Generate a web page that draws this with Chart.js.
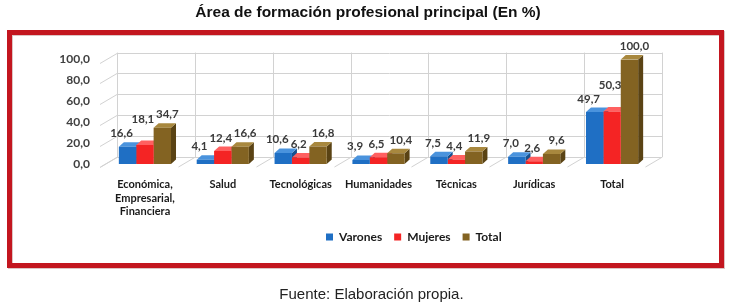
<!DOCTYPE html>
<html><head><meta charset="utf-8">
<script src="https://cdn.jsdelivr.net/npm/chart.js@4"></script>
<style>
html,body{margin:0;padding:0;background:#fff;}
#wrap{position:relative;width:739px;height:307px;overflow:hidden;}
#footer{position:absolute;left:2px;width:739px;top:285px;line-height:16px;text-align:center;font:15px "Liberation Sans",Arial,sans-serif;color:#222;}
</style></head><body>
<div id="wrap"><canvas id="c" width="739" height="307"></canvas><div id="footer">Fuente: Elaboración propia.</div></div>
<script>
// ---- data ----
const categories = [['Económica,','Empresarial,','Financiera'],'Salud','Tecnológicas','Humanidades','Técnicas','Jurídicas','Total'];
const seriesNames = ['Varones','Mujeres','Total'];
const varones = [16.6, 4.1, 10.6, 3.9, 7.5, 7.0, 49.7];
const mujeres = [18.1, 12.4, 6.2, 6.5, 4.4, 2.6, 50.3];
const totales = [34.7, 16.6, 16.8, 10.4, 11.9, 9.6, 100.0];
const yTickLabels = ['0,0','20,0','40,0','60,0','80,0','100,0'];
const titleText = 'Área de formación profesional principal (En %)';

// ---- styles ----
const frontColors = ['#1f6fc4','#f42424','#836322'];
const topColors   = ['#4a93dd','#ff6060','#a8883e'];
const sideColors  = ['#16518f','#b51515','#5a4314'];
const WALL = {bx: 11, by: -7, fx: -6, fy: 3};
const DEPTH = {x: 5, y: 4.5};
const labelDx = [-6, -2, 5];

function poly(ctx, pts){ctx.beginPath();ctx.moveTo(pts[0][0],pts[0][1]);for(let i=1;i<pts.length;i++)ctx.lineTo(pts[i][0],pts[i][1]);ctx.closePath();ctx.fill();}
function line(ctx,x1,y1,x2,y2){ctx.beginPath();ctx.moveTo(x1,y1);ctx.lineTo(x2,y2);ctx.stroke();}
const fmt = v => v.toFixed(1).replace('.', ',');

const deco = {
  id: 'deco',
  afterLayout(chart){
    const lg = chart.legend;
    if (lg) {
      const pad = lg.options.labels.padding;
      const lw = lg.lineWidths[0];
      const cur = ((lg.left + pad) + (lg.right - lw)) / 2;
      const dx = 326 - cur;
      lg.left += dx; lg.right += dx;
      const dy = 219 - lg.top;
      lg.top += dy; lg.bottom += dy;
    }
    const tb = chart.titleBlock;
    if (tb) {
      const c = (tb.left + tb.right) / 2;
      const d = 368 - c;
      tb.left += d; tb.right += d;
    }
  },
  beforeDraw(chart){
    const ctx = chart.ctx;
    ctx.save();
    ctx.fillStyle = '#fff'; ctx.fillRect(0,0,chart.width,chart.height);
    ctx.strokeStyle = 'rgba(120,20,20,0.25)'; ctx.lineWidth = 5;
    ctx.strokeRect(10.5, 33.5, 712, 233);
    ctx.strokeStyle = '#c3161f'; ctx.lineWidth = 5;
    ctx.strokeRect(9.5, 32.5, 712, 233);
    ctx.restore();
  },
  beforeDatasetsDraw(chart){
    const {ctx, chartArea: a, scales: {x, y}} = chart;
    ctx.save();
    ctx.strokeStyle = '#d2d2d2'; ctx.lineWidth = 1;
    const L = a.left, R = a.right;
    const y0 = y.getPixelForValue(y.min), y1 = y.getPixelForValue(y.max);
    y.ticks.forEach(t => {
      const py = Math.round(y.getPixelForValue(t.value)) + 0.5;
      line(ctx, L + WALL.bx, py + WALL.by, R + WALL.bx, py + WALL.by);
      line(ctx, L + WALL.fx, py + WALL.fy, L + WALL.bx, py + WALL.by);
    });
    const n = categories.length, w = (R - L) / n;
    for (let i = 0; i <= n; i++) {
      const px = Math.round(L + i * w) + 0.5;
      line(ctx, px + WALL.bx, y0 + WALL.by, px + WALL.bx, y1 + WALL.by);
      line(ctx, px + WALL.fx, y0 + WALL.fy, px + WALL.bx, y0 + WALL.by);
    }
    // 3D top & side faces (fronts drawn by Chart.js on top)
    chart.data.datasets.forEach((ds, di) => {
      const meta = chart.getDatasetMeta(di);
      meta.data.forEach(bar => {
        const p = bar.getProps(['x','y','base','width'], true);
        const x1 = p.x - p.width/2, x2 = p.x + p.width/2, top = p.y, base = p.base;
        ctx.fillStyle = sideColors[di];
        poly(ctx, [[x2,top],[x2+DEPTH.x,top-DEPTH.y],[x2+DEPTH.x,base-DEPTH.y],[x2,base]]);
        ctx.fillStyle = topColors[di];
        poly(ctx, [[x1,top],[x1+DEPTH.x,top-DEPTH.y],[x2+DEPTH.x,top-DEPTH.y],[x2,top]]);
      });
    });
    ctx.restore();
  },
  afterDatasetsDraw(chart){
    const ctx = chart.ctx;
    ctx.save();
    ctx.font = 'bold 11.5px Lato, sans-serif';
    ctx.fillStyle = '#3a3a3a';
    ctx.textAlign = 'center'; ctx.textBaseline = 'bottom';
    const H = 12;
    const n = categories.length;
    for (let i = 0; i < n; i++) {
      let prev = null;
      chart.data.datasets.forEach((ds, di) => {
        const bar = chart.getDatasetMeta(di).data[i];
        const p = bar.getProps(['x','y'], true);
        const txt = fmt(ds.data[i]);
        const w = ctx.measureText(txt).width;
        const cx = p.x + labelDx[di];
        let bottom = p.y - DEPTH.y - 3;
        const box = {l: cx - w/2, r: cx + w/2};
        if (prev && prev.r + 1 > box.l && bottom > prev.b - H && bottom - H < prev.b) {
          bottom = prev.b - H - 2;
        }
        box.b = bottom;
        ctx.fillText(txt, cx, bottom);
        prev = box;
      });
    }
    ctx.restore();
  }
};

new Chart(document.getElementById('c'), {
  type: 'bar',
  data: {
    labels: categories,
    datasets: [
      {label: seriesNames[0], data: varones, backgroundColor: frontColors[0]},
      {label: seriesNames[1], data: mujeres, backgroundColor: frontColors[1]},
      {label: seriesNames[2], data: totales, backgroundColor: frontColors[2]}
    ]
  },
  options: {
    responsive: false,
    animation: false,
    events: [],
    datasets: {bar: {categoryPercentage: 0.67, barPercentage: 1.0, borderWidth: 0}},
    layout: {padding: {left: 46, right: 88, top: 0, bottom: 52}},
    plugins: {
      title: {display: true, text: titleText, color: '#111',
        font: {family: '"Liberation Sans", Arial, sans-serif', size: 15.5, weight: 'bold'},
        padding: {top: 3, bottom: 38}},
      legend: {display: true, position: 'bottom',
        labels: {boxWidth: 7, boxHeight: 7, padding: 12, color: '#1a1a1a',
          font: {family: 'Lato, sans-serif', size: 12, weight: 'bold'}}},
      tooltip: {enabled: false}
    },
    scales: {
      x: {
        grid: {display: false, drawTicks: false}, border: {display: false},
        afterFit: s => { s.height = 57; },
        ticks: {padding: 13, color: '#1a1a1a', maxRotation: 0, autoSkip: false,
          font: {family: 'Lato, sans-serif', size: 11, weight: 'bold', lineHeight: 1.27}}
      },
      y: {
        min: 0, max: 100,
        grid: {display: false, drawTicks: false}, border: {display: false},
        afterFit: s => { s.width = 60; },
        ticks: {stepSize: 20, padding: 16, color: '#404040',
          font: {family: 'Lato, sans-serif', size: 12, weight: 'bold'},
          callback: (v, i) => yTickLabels[i]}
      }
    }
  },
  plugins: [deco]
});
</script>
</body></html>
